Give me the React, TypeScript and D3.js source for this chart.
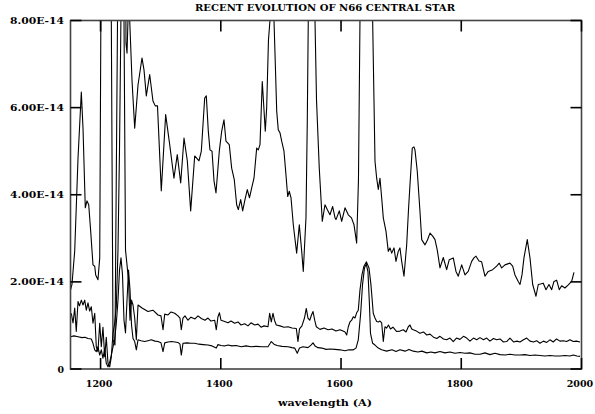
import React from "react";
import * as d3 from "d3";

// ---- data (flux in units of 1e-14 erg/cm2/s/A) ----
const topWave = [1150,1152.5,1157,1162.5,1168,1170.8,1174.6,1177.4,1180.3,1183.6,1187.4,1190.3,1191.9,1195.7,1198.6,1201.2,1203.2,1215.7,1217.9,1220.7,1224,1228.2,1230.7,1241.5,1242.3,1244,1245.6,1247.3,1248.5,1252.3,1256.8,1262.3,1268.9,1272.3,1276.1,1281.7,1287.2,1291,1294.7,1301,1308.3,1315,1322.1,1327.6,1333.3,1338.8,1344.3,1349.9,1356.6,1363.7,1367.6,1373.2,1375.9,1379.2,1382,1385.4,1388.7,1392,1397.5,1401.5,1405.3,1408.6,1414.1,1418.1,1422.4,1426.4,1429.1,1433.1,1436.4,1440.2,1444.1,1447.7,1451.4,1455.2,1459.7,1462.4,1465.2,1469,1474,1476.3,1479.3,1481.8,1485.2,1488.5,1491,1493,1495.6,1498.5,1501.3,1505.1,1508.4,1511.3,1513.9,1516.8,1520.6,1526.2,1530.6,1534.6,1537.2,1541.7,1543.9,1545.5,1550.9,1556.7,1559.2,1563.8,1568.8,1573.3,1577.5,1581.6,1586.1,1590,1591.6,1597.1,1601.1,1606.6,1612.1,1617.4,1621.6,1626,1629,1631.5,1641.5,1652.6,1654.8,1656.5,1659.3,1662,1664.8,1667.6,1670.3,1674.8,1678.6,1681.4,1684.3,1688.1,1691.4,1695.2,1698,1700.9,1704.7,1709.2,1712.2,1714.7,1718.5,1721.3,1723,1726.8,1731.3,1734.2,1739.7,1743.8,1748,1752.5,1756.3,1760.1,1764.6,1770.1,1775.7,1780,1786.7,1791.2,1795,1800.7,1806.2,1811.6,1817.3,1821.1,1824.5,1829.5,1833.9,1839.4,1844.9,1852.2,1858.9,1863.2,1867.2,1872.7,1881,1885.5,1889.3,1894.8,1897.7,1901,1904.3,1909.8,1914.3,1918.8,1924.3,1928.1,1931.8,1936.4,1940.9,1945.9,1950.4,1954.2,1958.7,1963,1967,1972.5,1978,1983.6,1987.5];
const topFlux = [1.81,1.95,2.71,4.84,6.36,5.53,3.70,3.86,3.77,3.16,2.39,2.36,2.16,2.05,2.55,10,14,12,8,0.67,0.55,8,13,11,7.48,7.25,8.0,9.5,8.0,6.63,5.53,6.52,7.14,6.86,6.27,6.76,6.15,6.04,6.04,4.09,5.84,5.15,4.38,4.92,4.27,5.30,4.78,3.63,4.89,4.78,5.0,6.22,6.27,5.46,5.03,5.0,4.32,4.04,5.0,5.46,5.72,5.23,5.15,4.61,4.35,3.77,3.66,3.89,3.63,3.89,4.12,3.93,4.16,4.38,5.07,5.03,5.15,6.6,5.46,5.99,7.55,8,10,8,6.86,5.92,5.49,5.42,5.23,5.0,4.46,3.96,4.08,3.93,3.31,2.66,3.31,2.70,2.24,3.47,5.72,8,16,8,6.18,4.61,3.39,3.77,3.65,3.54,3.73,3.47,3.43,3.63,3.39,3.70,3.54,3.47,3.31,2.89,4.34,8,20,8,6.18,4.77,4.38,4.12,4.38,3.93,3.47,3.16,2.70,2.78,2.66,2.78,2.47,2.70,2.78,2.47,2.13,2.85,3.65,4.23,5.07,5.10,5.03,4.54,3.62,2.97,2.85,2.96,3.12,3.05,2.97,2.73,2.32,2.56,2.28,2.51,2.55,2.24,2.13,2.39,2.16,2.24,2.47,2.55,2.59,2.48,2.46,2.13,2.24,2.28,2.36,2.43,2.32,2.39,2.43,2.36,2.16,2.01,1.94,2.16,2.55,2.97,2.55,1.94,1.67,1.94,1.95,1.97,1.82,1.94,1.82,2.01,2.04,1.82,1.91,1.86,1.93,2.01,2.22];

const midWave = [1151.3,1154.2,1157,1159.6,1162.5,1165,1168,1170.8,1173.6,1176.3,1179.1,1181.9,1184.6,1187.4,1190.3,1192.9,1195.7,1198.6,1201.2,1204,1206.9,1209.5,1212.4,1215.2,1217.9,1220.7,1223.5,1226.2,1229,1231.5,1234,1236.5,1239,1241.5,1244,1246.5,1249,1251.5,1254,1256.8,1259.5,1262.3,1269,1278.9,1287.2,1295.5,1300.5,1303.9,1306.7,1312.2,1317.2,1323.3,1328.8,1332.1,1334.3,1337.1,1340.4,1345.4,1350.4,1357.1,1362.1,1367.6,1373.7,1378.7,1383.7,1389.8,1392.5,1395.3,1397.8,1400.3,1406.5,1412,1417,1423.1,1428.6,1433.6,1439.7,1445.2,1450.2,1456.4,1461.9,1466.9,1471.9,1478.5,1481.3,1484,1486.8,1489.3,1492.3,1498.5,1505.1,1511.8,1518.4,1525.6,1528.4,1530.9,1535,1539.2,1542.2,1545,1547.9,1550.9,1553.4,1556.2,1558.9,1565,1571.7,1578.3,1585,1591.6,1598.3,1603.3,1606.6,1609.4,1612.1,1614.9,1617.7,1620.4,1623.2,1626,1628.7,1631.5,1634.8,1638.1,1642.3,1646.5,1649.8,1653.6,1656.5,1659.3,1662,1664.8,1667.6,1670.3,1673.1,1675.9,1678.9,1682.2,1686.4,1692.6,1698,1703.6,1708.1,1711.9,1714.7,1717.6,1720.2,1725.5,1731.3,1737.2,1742.5,1748,1753.8,1759.2,1764.6,1770.4,1775.7,1781.2,1786.7,1792,1797.8,1803.7,1809,1814.5,1820.3,1825.7,1831.1,1836.9,1842.3,1847.7,1853.6,1858.9,1864.4,1870.2,1875.5,1881,1886.9,1892.7,1897.7,1903.5,1908.8,1914.3,1920.1,1925.4,1930.9,1936.7,1942.1,1947.5,1953,1958.4,1964.2,1969.7,1975.3,1980.8,1986.3,1991.6,1997.5];
const midFlux = [1.28,1.06,1.40,0.86,1.55,1.45,1.58,1.47,1.58,1.35,1.52,1.33,1.43,1.05,1.28,0.51,0.40,1.05,0.51,0.96,0.28,0.73,0.13,0.05,0.28,0.82,1.05,1.43,2.73,5.03,8.2,10,8,2.73,2.39,2.04,1.12,1.58,1.47,1.17,0.67,1.47,1.40,1.32,1.35,1.24,1.22,0.90,1.26,1.24,1.31,1.28,1.22,1.17,0.90,1.17,1.22,1.12,1.19,1.15,1.22,1.16,1.12,1.17,1.10,1.12,0.90,1.20,1.29,1.12,1.09,1.06,1.10,1.05,1.08,1.01,1.04,0.99,1.06,1.01,1.03,0.96,0.99,0.97,1.28,1.08,1.28,1.12,1.01,0.99,0.96,0.97,0.94,0.93,0.63,0.92,0.99,1.17,1.39,1.17,1.12,1.24,1.32,1.12,0.97,0.91,0.94,0.90,0.92,0.87,0.90,0.87,0.85,0.78,0.97,1.08,1.12,1.20,1.17,1.29,1.35,1.81,2.16,2.36,2.46,2.32,1.93,1.28,1.17,1.09,1.08,1.10,1.06,0.63,0.97,0.94,1.01,0.92,0.96,0.86,0.87,0.90,0.85,0.97,1.01,0.92,0.90,0.87,0.82,0.85,0.78,0.80,0.73,0.70,0.75,0.69,0.67,0.71,0.63,0.71,0.68,0.75,0.71,0.64,0.71,0.67,0.72,0.67,0.71,0.64,0.70,0.67,0.69,0.62,0.63,0.71,0.62,0.64,0.62,0.67,0.71,0.64,0.62,0.65,0.59,0.64,0.61,0.67,0.62,0.69,0.64,0.65,0.63,0.67,0.63,0.64,0.62];

const lowWave = [1150,1155.8,1162.5,1169.1,1174.1,1179.1,1184.6,1187.4,1190.3,1192.9,1195.7,1198.6,1201.2,1204,1206.9,1209.5,1212.4,1215.2,1217.9,1220.7,1223.5,1226.2,1229,1231.5,1234,1236.5,1239,1241.5,1244,1246.5,1249,1251.5,1254,1256.8,1259.5,1262.3,1267.3,1273.4,1278.9,1284.4,1290.5,1295.5,1300.5,1303.9,1306.7,1312.2,1317.7,1323.8,1328.8,1332.1,1334.3,1337.1,1343.8,1350.4,1356.6,1363.7,1370.4,1378.7,1385.4,1392.5,1395.3,1400.3,1406.1,1412,1418.6,1425.3,1434.1,1441.9,1450.2,1458.5,1468.5,1478.5,1484,1488.5,1493.5,1501.8,1511.8,1518.4,1522.9,1527.2,1530.9,1536.7,1545,1550,1553.4,1556.7,1561.7,1568.3,1575,1581.6,1590,1598.3,1606.6,1613.2,1620.4,1624.9,1628.7,1632.7,1635.7,1639,1642,1644.8,1647.3,1649,1652.6,1656.5,1662,1667.6,1675.9,1684.8,1691.4,1698,1706.4,1713,1720.2,1728,1734.6,1742.5,1749.6,1756.3,1764.6,1772.9,1781.2,1789.6,1797.8,1806.2,1814.5,1822.8,1831.1,1839.5,1847.7,1856.1,1864.4,1872.7,1881,1889.4,1897.7,1906,1914.3,1922.6,1930.9,1939.2,1947.5,1955.9,1964.2,1972.5,1980.8,1986.3,1992.4,1997.5];
const lowFlux = [0.74,0.76,0.74,0.72,0.73,0.70,0.69,0.59,0.44,0.40,0.51,0.32,0.44,0.25,0.46,0.13,0.05,0.16,0.32,0.51,0.67,1.05,1.58,2.27,2.55,2.16,1.12,0.83,1.58,2.27,1.81,1.01,0.70,0.63,0.44,0.67,0.65,0.63,0.65,0.67,0.64,0.63,0.60,0.40,0.60,0.62,0.63,0.62,0.61,0.57,0.32,0.59,0.60,0.59,0.59,0.57,0.56,0.55,0.53,0.48,0.56,0.54,0.53,0.55,0.53,0.54,0.51,0.53,0.51,0.52,0.51,0.51,0.63,0.57,0.54,0.52,0.51,0.49,0.48,0.36,0.48,0.51,0.49,0.55,0.60,0.53,0.49,0.48,0.45,0.46,0.45,0.44,0.42,0.44,0.44,0.48,0.67,1.28,1.93,2.32,2.41,2.23,1.47,0.82,0.59,0.55,0.48,0.44,0.41,0.44,0.40,0.44,0.41,0.45,0.41,0.39,0.41,0.37,0.39,0.37,0.40,0.37,0.39,0.36,0.38,0.36,0.37,0.34,0.34,0.37,0.33,0.36,0.33,0.32,0.34,0.32,0.32,0.33,0.31,0.32,0.31,0.30,0.31,0.30,0.30,0.31,0.30,0.32,0.30,0.29];

const xTicks = [1200, 1400, 1600, 1800, 2000];
const yTicks = [0, 2, 4, 6, 8];
const yTickLabels = ["0", "2.00E-14", "4.00E-14", "6.00E-14", "8.00E-14"];
const titleText = "RECENT EVOLUTION OF N66 CENTRAL STAR";
const xLabelText = "wavelength (A)";

const W = 595, H = 414;
const L = 70.5, R = 581.5, T = 20.5, B = 369;
const FONT = "'DejaVu Serif', serif";

export default function App() {
  const x = d3.scaleLinear().domain([1150, 2000]).range([L, R]);
  const y = d3.scaleLinear().domain([0, 8]).range([B, T]);
  const line = d3.line<[number, number]>().x(d => x(d[0])).y(d => y(d[1]));
  const mk = (w: number[], f: number[]) => w.map((v, i) => [v, f[i]] as [number, number]);
  const series = [mk(topWave, topFlux), mk(midWave, midFlux), mk(lowWave, lowFlux)];
  const tl = 11;
  return (
    <svg width={W} height={H} style={{ position: "absolute", left: 0, top: 0, background: "#fff" }}>
      <defs>
        <clipPath id="plotclip">
          <rect x={L} y={T} width={R - L} height={B - T} />
        </clipPath>
      </defs>
      <rect x={0} y={0} width={W} height={H} fill="#fff" />
      <g clipPath="url(#plotclip)">
        {series.map((s, i) => (
          <path key={i} d={line(s) || ""} fill="none" stroke="#000" strokeWidth={1.1} strokeLinejoin="round" />
        ))}
      </g>
      <rect x={L} y={T} width={R - L} height={B - T} fill="none" stroke="#444" strokeWidth={1.6} />
      {xTicks.map(t => (
        <g key={"x" + t}>
          <line x1={x(t)} x2={x(t)} y1={B} y2={B - tl} stroke="#000" strokeWidth={1.6} />
          <line x1={x(t)} x2={x(t)} y1={T} y2={T + tl} stroke="#000" strokeWidth={1.6} />
          <text x={x(t) - 1.5} y={386.5} textAnchor="middle" fontFamily={FONT} fontWeight="bold" fontSize={10} textLength={26.5} lengthAdjust="spacingAndGlyphs">{t}</text>
        </g>
      ))}
      {yTicks.map((t, i) => (
        <g key={"y" + t}>
          <line x1={L} x2={L + tl} y1={y(t)} y2={y(t)} stroke="#000" strokeWidth={1.6} />
          <line x1={R} x2={R - tl} y1={y(t)} y2={y(t)} stroke="#000" strokeWidth={1.6} />
          <text x={64} y={y(t) + 3.5} textAnchor="end" fontFamily={FONT} fontWeight="bold" fontSize={9.4}
            {...(t === 0 ? {} : { textLength: 54, lengthAdjust: "spacingAndGlyphs" })}>{yTickLabels[i]}</text>
        </g>
      ))}
      <text x={325} y={11} textAnchor="middle" fontFamily={FONT} fontWeight="bold" fontSize={9.2} textLength={260} lengthAdjust="spacingAndGlyphs">{titleText}</text>
      <text x={325} y={406} textAnchor="middle" fontFamily={FONT} fontWeight="bold" fontSize={10} textLength={94} lengthAdjust="spacingAndGlyphs">{xLabelText}</text>
    </svg>
  );
}
